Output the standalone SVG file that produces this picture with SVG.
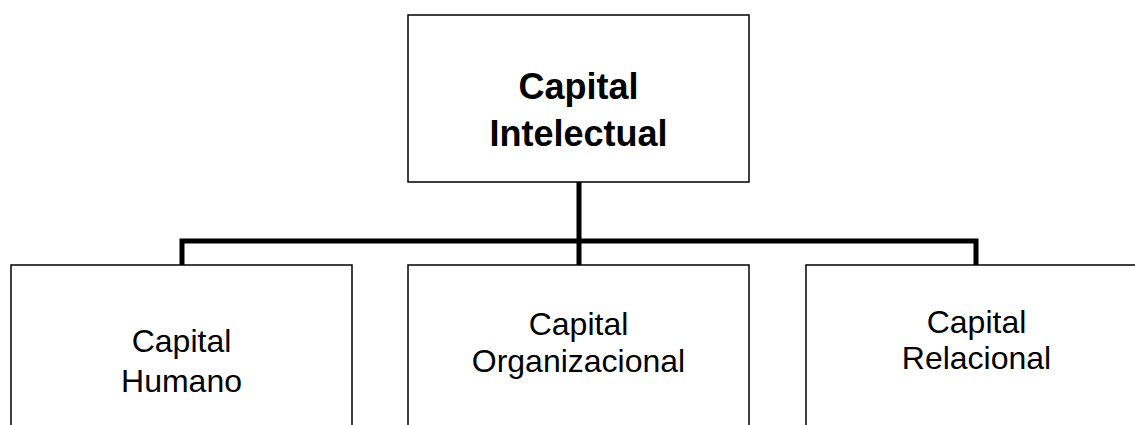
<svg xmlns="http://www.w3.org/2000/svg" width="1135" height="425" viewBox="0 0 1135 425">
<style>
.box{fill:#fff;stroke:#000;stroke-width:1.5}
.conn{fill:none;stroke:#000;stroke-width:5;stroke-linejoin:miter}
.t{font-family:"Liberation Sans",Arial,sans-serif;text-anchor:middle;fill:#000}
.b{font-size:36px;font-weight:bold}
.r{font-size:32px}
</style>
<rect width="1135" height="425" fill="#fff"/>
<g id="connectors">
<path class="conn" d="M579 182 V265"/>
<path class="conn" d="M182 265 V241 H976 V265"/>
</g>
<g id="n-top">
<rect class="box" x="408" y="15" width="341" height="167"/>
<text class="t b" x="578.5" y="99">Capital</text>
<text class="t b" x="578.5" y="146">Intelectual</text>
</g>
<g id="n-humano">
<rect class="box" x="11" y="265" width="341" height="180"/>
<text class="t r" x="181.5" y="352">Capital</text>
<text class="t r" x="181.5" y="392">Humano</text>
</g>
<g id="n-org">
<rect class="box" x="408" y="265" width="341" height="180"/>
<text class="t r" x="578.5" y="335">Capital</text>
<text class="t r" x="578.5" y="372">Organizacional</text>
</g>
<g id="n-rel">
<rect class="box" x="806" y="265" width="341" height="180"/>
<text class="t r" x="976.5" y="333">Capital</text>
<text class="t r" x="976.5" y="369">Relacional</text>
</g>
</svg>
